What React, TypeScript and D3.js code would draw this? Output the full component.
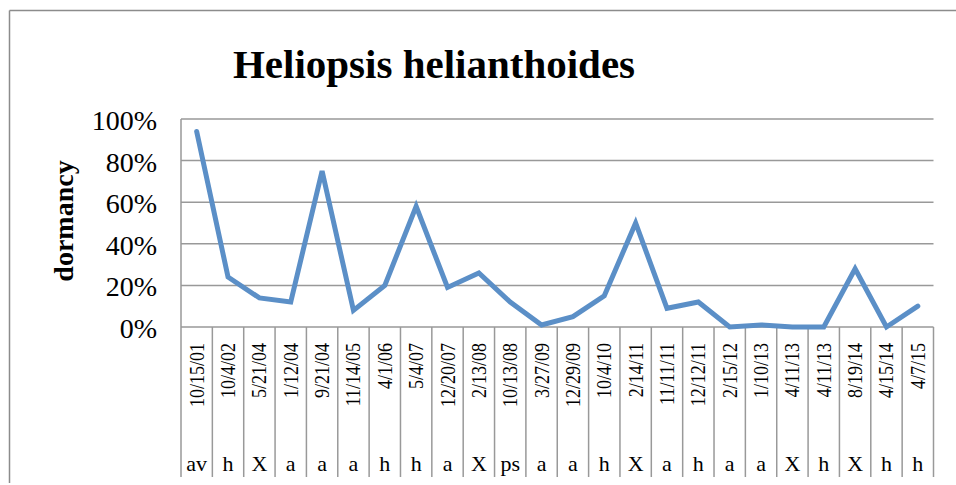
import React from "react";
import * as d3 from "d3";

const dates = ["10/15/01","10/4/02","5/21/04","1/12/04","9/21/04","11/14/05","4/1/06","5/4/07","12/20/07","2/13/08","10/13/08","3/27/09","12/29/09","10/4/10","2/14/11","11/11/11","12/12/11","2/15/12","1/10/13","4/11/13","4/11/13","8/19/14","4/15/14","4/7/15"];
const codes = ["av","h","X","a","a","a","h","h","a","X","ps","a","a","h","X","a","h","a","a","X","h","X","h","h"];
const dormancy = [0.94,0.24,0.14,0.12,0.75,0.08,0.20,0.58,0.19,0.26,0.12,0.01,0.05,0.15,0.50,0.09,0.12,0.0,0.01,0.0,0.0,0.28,0.0,0.10];
const yTicks = [0,0.2,0.4,0.6,0.8,1.0];
const title = "Heliopsis helianthoides";
const yTitle = "dormancy";

const W = 956, H = 485;
const plotL = 181, plotR = 933.5, plotT = 119, plotB = 327, labelB = 477;
const FONT = "'Liberation Serif', 'Times New Roman', serif";

export default function App() {
  const idx = dates.map((_, i) => i);
  const x = d3.scaleBand<number>().domain(idx).range([plotL, plotR]);
  const y = d3.scaleLinear().domain([0, 1]).range([plotB, plotT]);
  const line = d3.line<number>().x((_, i) => (x(i) as number) + x.bandwidth() / 2).y(d => y(d));
  const fmt = d3.format(".0%");
  const grid = "#999999";
  return (
    <svg width={W} height={H} style={{ position: "absolute", left: 0, top: 0, background: "#fff" }} fontFamily={FONT}>
      <rect x={0} y={0} width={W} height={H} fill="#fff" />
      <line x1={9.5} y1={10.5} x2={W + 5} y2={10.5} stroke="#8c8c8c" strokeWidth={1.5} />
      <line x1={9.5} y1={10.5} x2={9.5} y2={483} stroke="#8c8c8c" strokeWidth={1.5} />
      <text x={434} y={78} textAnchor="middle" fontSize={41} fontWeight="bold">{title}</text>
      {yTicks.map(t => (
        <g key={t}>
          <line x1={plotL} x2={plotR} y1={y(t)} y2={y(t)} stroke={grid} strokeWidth={1.5} />
          <text x={157} y={y(t) + 11} textAnchor="end" fontSize={28}>{fmt(t)}</text>
        </g>
      ))}
      <line x1={plotL} x2={plotL} y1={plotT} y2={plotB} stroke={grid} strokeWidth={1.5} />
      {[...idx, idx.length].map(i => {
        const xx = i < idx.length ? (x(i) as number) : plotR;
        return <line key={"v" + i} x1={xx} x2={xx} y1={plotB} y2={labelB} stroke={grid} strokeWidth={1.5} />;
      })}
      {dates.map((d, i) => {
        const cx = (x(i) as number) + x.bandwidth() / 2;
        return (
          <text key={"d" + i} transform={`translate(${cx + 7},343) rotate(-90) scale(1,1.15)`} textAnchor="end" fontSize={18}>{d}</text>
        );
      })}
      {codes.map((c, i) => {
        const cx = (x(i) as number) + x.bandwidth() / 2;
        return <text key={"c" + i} x={cx} y={471} textAnchor="middle" fontSize={22}>{c}</text>;
      })}
      <text transform="translate(73,221) rotate(-90)" textAnchor="middle" fontSize={28} fontWeight="bold">{yTitle}</text>
      <path d={line(dormancy) || ""} fill="none" stroke="#5b8fc7" strokeWidth={5} strokeLinejoin="miter" strokeLinecap="round" />
    </svg>
  );
}
